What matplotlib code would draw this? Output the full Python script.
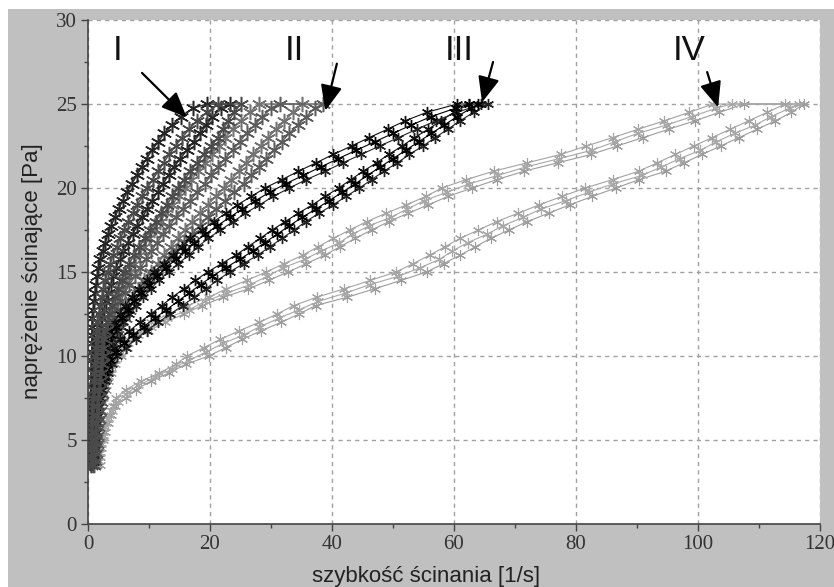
import matplotlib.pyplot as plt
from matplotlib.patches import Rectangle
from matplotlib.ticker import MultipleLocator

# naprezenie [Pa] - dwa przesuniete zestawy poziomow
tau_a = [3.5, 4.0, 4.5, 5.0, 5.5, 6.0, 6.5, 7.0, 7.5, 8.0, 8.5, 9.0, 9.5, 10.0,
         10.5, 11.0, 11.5, 12.0, 12.5, 13.0, 13.5, 14.0, 14.5, 15.0, 15.5, 16.0,
         16.5, 17.0, 17.5, 18.0, 18.5, 19.0, 19.5, 20.0, 20.5, 21.0, 21.5, 22.0,
         22.5, 23.0, 23.5, 24.0, 24.5, 25.0]
tau_b = [3.75, 4.25, 4.75, 5.25, 5.75, 6.25, 6.75, 7.25, 7.75, 8.25, 8.75, 9.25,
         9.75, 10.25, 10.75, 11.25, 11.75, 12.25, 12.75, 13.25, 13.75, 14.25, 14.75,
         15.25, 15.75, 16.25, 16.75, 17.25, 17.75, 18.25, 18.75, 19.25, 19.75, 20.25,
         20.75, 21.25, 21.75, 22.25, 22.75, 23.25, 23.75, 24.25, 24.75, 25.0]

# szybkosc scinania [1/s], probka I
i_up_1 = [0.3, 0.3, 0.32, 0.35, 0.37, 0.4, 0.42, 0.45, 0.47, 0.5, 0.52, 0.55, 0.57,
          0.6, 0.6, 0.6, 0.65, 0.7, 0.85, 1.0, 1.15, 1.3, 1.5, 1.7, 2.0, 2.4, 2.8,
          3.3, 3.8, 4.4, 5.0, 5.7, 6.4, 7.2, 8.0, 8.8, 9.6, 10.5, 11.5, 12.5, 13.8,
          15.2, 17.2, 19.5]
i_up_2 = [0.45, 0.5, 0.55, 0.6, 0.65, 0.7, 0.75, 0.8, 0.88, 0.95, 1.0, 1.05, 1.12,
          1.2, 1.25, 1.3, 1.4, 1.5, 1.75, 2.0, 2.25, 2.5, 2.85, 3.2, 3.65, 4.1, 4.7,
          5.3, 5.95, 6.6, 7.35, 8.1, 8.9, 9.7, 10.6, 11.5, 12.4, 13.3, 14.35, 15.4,
          16.6, 17.8, 19.5, 21.3]
i_down_1 = [0.65, 0.7, 0.78, 0.85, 0.92, 1.0, 1.08, 1.15, 1.25, 1.35, 1.48, 1.6, 1.7,
            1.8, 1.85, 1.9, 2.1, 2.3, 2.6, 2.9, 3.3, 3.7, 4.15, 4.6, 5.2, 5.8, 6.55,
            7.3, 8.1, 8.9, 9.7, 10.5, 11.4, 12.3, 13.2, 14.1, 15.15, 16.2, 17.3, 18.4,
            19.4, 20.4, 21.8, 23.2]
i_down_2 = [0.8, 0.9, 1.0, 1.1, 1.2, 1.3, 1.4, 1.5, 1.65, 1.8, 1.95, 2.1, 2.25, 2.4,
            2.5, 2.6, 2.85, 3.1, 3.5, 3.9, 4.4, 4.9, 5.5, 6.1, 6.8, 7.5, 8.4, 9.3,
            10.2, 11.1, 12.0, 12.9, 13.85, 14.8, 15.8, 16.8, 17.9, 19.0, 20.15, 21.3,
            22.15, 23.0, 24.0, 25.0]

# probka II
ii_up_1 = [0.5, 0.55, 0.57, 0.6, 0.65, 0.7, 0.75, 0.8, 0.9, 1.0, 1.15, 1.3, 1.55,
           1.8, 2.15, 2.5, 2.9, 3.3, 3.75, 4.2, 4.8, 5.4, 6.1, 6.8, 7.6, 8.4, 9.2,
           10.0, 10.9, 11.8, 12.8, 13.8, 14.85, 15.9, 16.95, 18.0, 19.15, 20.3, 21.4,
           22.5, 23.75, 25.0, 26.5, 28.0]
ii_up_2 = [0.75, 0.8, 0.85, 0.9, 0.97, 1.05, 1.15, 1.25, 1.37, 1.5, 1.67, 1.85, 2.15,
           2.45, 2.85, 3.25, 3.7, 4.2, 4.75, 5.3, 6.05, 6.8, 7.7, 8.6, 9.5, 10.4,
           11.35, 12.3, 13.35, 14.4, 15.55, 16.7, 17.9, 19.1, 20.2, 21.3, 22.5, 23.7,
           24.85, 26.0, 27.3, 28.6, 30.05, 31.5]
ii_down_1 = [0.95, 1.05, 1.12, 1.2, 1.32, 1.45, 1.55, 1.65, 1.82, 2.0, 2.22, 2.45,
             2.8, 3.15, 3.6, 4.05, 4.57, 5.1, 5.75, 6.4, 7.3, 8.2, 9.25, 10.3, 11.4,
             12.5, 13.6, 14.7, 15.85, 17.0, 18.3, 19.6, 20.95, 22.3, 23.5, 24.7, 25.9,
             27.1, 28.3, 29.5, 30.85, 32.2, 33.6, 35.0]
ii_down_2 = [1.2, 1.3, 1.4, 1.5, 1.65, 1.8, 1.95, 2.1, 2.3, 2.5, 2.75, 3.0, 3.4, 3.8,
             4.3, 4.8, 5.4, 6.0, 6.75, 7.5, 8.55, 9.6, 10.85, 12.1, 13.3, 14.5, 15.75,
             17.0, 18.3, 19.6, 21.05, 22.5, 24.0, 25.5, 26.75, 28.0, 29.25, 30.5,
             31.75, 33.0, 34.4, 35.8, 37.15, 38.5]

# probka III
iii_up_1 = [0.3, 0.3, 0.35, 0.4, 0.5, 0.55, 0.65, 0.75, 0.9, 1.0, 1.2, 1.3, 1.6, 1.9,
            2.4, 2.7, 3.5, 4.2, 5.2, 6.1, 7.2, 8.3, 9.6, 10.8, 12.4, 13.9, 15.4, 16.7,
            18.7, 20.6, 22.6, 24.5, 26.8, 29.0, 31.8, 34.5, 37.4, 40.2, 43.2, 46.1,
            49.1, 52.0, 55.5, 60.5]
iii_up_2 = [0.5, 0.5, 0.55, 0.6, 0.7, 0.85, 0.95, 1.05, 1.2, 1.4, 1.6, 1.9, 2.2, 2.7,
            3.2, 3.9, 4.7, 5.8, 6.8, 7.9, 9.0, 10.3, 11.6, 13.2, 14.8, 16.5, 18.0,
            19.7, 21.7, 23.8, 25.8, 28.1, 30.4, 33.0, 35.8, 38.9, 41.8, 44.8, 47.8,
            50.9, 53.9, 57.0, 60.5, 64.5]
iii_up_3 = [0.4, 0.42, 0.47, 0.55, 0.65, 0.75, 0.85, 0.97, 1.12, 1.3, 1.5, 1.75, 2.1,
            2.55, 3.05, 3.7, 4.55, 5.5, 6.5, 7.55, 8.7, 9.95, 11.3, 12.8, 14.4, 15.95,
            17.45, 19.2, 21.2, 23.2, 25.25, 27.45, 29.8, 32.4, 35.25, 38.15, 41.05,
            44.0, 47.0, 50.0, 53.0, 56.25, 60.25, 62.5]
iii_down_1 = [0.4, 0.5, 0.6, 0.7, 0.8, 0.95, 1.1, 1.3, 1.5, 1.7, 2.0, 2.3, 2.7, 3.2,
              4.2, 5.2, 6.8, 8.5, 10.3, 12.1, 13.8, 15.7, 17.6, 19.6, 21.9, 24.2,
              26.2, 28.2, 30.2, 32.3, 34.5, 36.8, 38.9, 41.1, 43.1, 45.1, 47.3, 49.3,
              51.5, 53.5, 55.8, 57.8, 60.0, 62.5]
iii_down_2 = [0.6, 0.7, 0.8, 0.9, 1.1, 1.25, 1.5, 1.7, 2.0, 2.3, 2.8, 3.3, 3.9, 4.8,
              6.2, 7.8, 9.6, 11.5, 13.5, 15.5, 17.4, 19.3, 21.2, 23.2, 25.5, 27.8,
              29.8, 31.8, 33.8, 35.7, 37.9, 40.2, 42.3, 44.5, 46.5, 48.5, 50.7, 52.7,
              54.9, 56.9, 59.0, 61.0, 63.2, 65.5]
iii_down_3 = [0.55, 0.65, 0.75, 0.87, 1.02, 1.2, 1.4, 1.62, 1.87, 2.2, 2.6, 3.05, 3.65,
              4.6, 5.85, 7.35, 9.1, 10.95, 12.85, 14.7, 16.55, 18.45, 20.4, 22.55,
              24.85, 27.0, 29.0, 31.0, 33.0, 35.1, 37.35, 39.55, 41.7, 43.8, 45.8,
              47.9, 50.0, 52.1, 54.2, 56.3, 58.4, 60.5, 62.8, 64.0]

# probka IV
iv_up_1 = [0.75, 0.85, 1.0, 1.15, 1.3, 1.45, 1.65, 1.85, 2.15, 2.3, 2.7, 3.2, 3.8,
           4.2, 5.2, 6.6, 8.6, 10.3, 13.3, 16.3, 19.8, 22.7, 26.0, 29.2, 32.2, 35.2,
           37.7, 40.2, 42.9, 45.7, 48.9, 52.2, 55.4, 58.0, 62.0, 66.5, 72.0, 77.5,
           81.7, 86.0, 90.2, 94.5, 98.5, 102.5]
iv_up_2 = [1.05, 1.15, 1.3, 1.45, 1.6, 1.75, 1.95, 2.15, 2.45, 2.9, 3.3, 3.8, 4.4,
           5.4, 6.4, 7.8, 9.8, 12.7, 15.7, 18.7, 22.2, 26.3, 29.6, 32.8, 35.8, 38.8,
           41.3, 43.8, 46.5, 49.3, 52.5, 55.8, 59.0, 63.0, 67.0, 71.5, 77.0, 82.5,
           86.7, 91.0, 95.2, 99.5, 103.5, 107.5]
iv_up_3 = [0.95, 1.07, 1.22, 1.37, 1.52, 1.7, 1.9, 2.15, 2.45, 2.8, 3.25, 3.8, 4.45,
           5.3, 6.5, 8.2, 10.35, 13.0, 16.5, 19.25, 22.75, 26.6, 29.4, 32.0, 35.5,
           38.25, 41.2, 43.35, 46.1, 49.6, 52.35, 55.1, 58.85, 62.5, 67.2, 71.75,
           77.25, 82.6, 86.35, 90.1, 94.85, 99.0, 103.0, 105.5]
iv_down_1 = [1.5, 1.6, 1.8, 2.0, 2.4, 2.9, 3.4, 4.1, 4.6, 6.2, 8.7, 11.7, 14.4, 16.2,
             19.0, 21.7, 24.8, 28.0, 31.0, 33.7, 37.5, 42.0, 46.3, 50.5, 53.3, 56.0,
             58.5, 61.0, 64.0, 67.0, 70.5, 74.0, 77.7, 81.5, 86.0, 90.3, 93.3, 96.3,
             99.3, 102.3, 105.3, 108.3, 111.3, 114.3]
iv_down_2 = [1.9, 2.0, 2.2, 2.4, 2.8, 3.3, 3.8, 4.5, 6.2, 7.8, 10.3, 13.3, 16.0, 19.8,
             22.6, 25.3, 28.4, 31.6, 34.6, 37.3, 42.5, 47.0, 51.3, 55.5, 58.3, 61.0,
             63.5, 66.0, 69.0, 72.0, 75.5, 79.0, 82.7, 86.5, 90.4, 94.7, 97.7, 100.7,
             103.7, 106.7, 109.7, 112.7, 115.3, 117.3]
iv_down_3 = [1.75, 1.9, 2.1, 2.4, 2.85, 3.35, 3.95, 4.85, 6.2, 8.25, 11.0, 13.85, 16.6,
             19.4, 22.15, 25.5, 28.2, 31.3, 34.6, 37.75, 42.25, 46.2, 50.9, 54.4, 57.6,
             59.75, 62.25, 65.4, 68.0, 71.25, 74.3, 78.35, 82.1, 86.1, 90.8, 94.0, 97.0,
             100.4, 103.0, 106.0, 109.4, 112.0, 115.0, 116.5]

labels = ['I', 'II', 'III', 'IV']
label_x = [4.9, 33.8, 60.8, 98.5]
arrow_from = [(8.85, 26.85), (40.8, 27.4), (66.4, 27.5), (101.5, 26.9)]
arrow_to = [(16.2, 24.2), (38.9, 24.6), (64.6, 25.1), (103.3, 24.8)]


def loop(ax, tau, up, down, color, ms=8, mew=0.8, lw=0.8):
    # jeden cykl: narastanie i spadek naprezenia
    x = up + down[::-1]
    y = tau + tau[::-1]
    ax.plot(x, y, color=color, lw=lw, marker=(6, 2, 0), ms=ms, mew=mew)


fig = plt.figure(figsize=(8.34, 5.87), dpi=100, facecolor='white')
fig.add_artist(Rectangle((8 / 834, 0), 1, 1 - 9 / 587, transform=fig.transFigure,
                         facecolor='#c0c0c0', edgecolor='none', zorder=-1))
ax = fig.add_axes([88 / 834, 1 - 524 / 587, 732 / 834, 504 / 587])
ax.set_facecolor('white')

loop(ax, tau_a, iv_up_1, iv_down_1, '#a3a3a3')
loop(ax, tau_a, iv_up_2, iv_down_2, '#9c9c9c')
loop(ax, tau_b, iv_up_3, iv_down_3, '#a8a8a8')
loop(ax, tau_a, ii_up_1, ii_down_1, '#727272', ms=11, mew=1.1, lw=1.0)
loop(ax, tau_b, ii_up_2, ii_down_2, '#5c5c5c', ms=11, mew=1.1, lw=1.0)
loop(ax, tau_a, iii_up_1, iii_down_1, '#111111', ms=8, mew=1.0)
loop(ax, tau_a, iii_up_2, iii_down_2, '#222222', ms=8, mew=1.0)
loop(ax, tau_b, iii_up_3, iii_down_3, '#000000', ms=8, mew=1.0)
loop(ax, tau_b, i_up_1, i_down_1, '#262626', ms=11, mew=1.1, lw=1.0)
loop(ax, tau_a, i_up_2, i_down_2, '#4a4a4a', ms=11, mew=1.1, lw=1.0)

for lab, lx, a0, a1 in zip(labels, label_x, arrow_from, arrow_to):
    ax.text(lx, 28.2, lab, fontsize=25, ha='center', va='center',
            family='Liberation Sans', color='#111111')
    ax.annotate('', xy=a1, xytext=a0,
                arrowprops=dict(arrowstyle='-|>,head_length=1.3,head_width=0.55',
                                mutation_scale=12, color='black', lw=1.6,
                                shrinkA=0, shrinkB=0))

ax.set_xlim(0, 120)
ax.set_ylim(0, 30)
ax.xaxis.set_major_locator(MultipleLocator(20))
ax.xaxis.set_minor_locator(MultipleLocator(10))
ax.yaxis.set_major_locator(MultipleLocator(5))
ax.yaxis.set_minor_locator(MultipleLocator(2.5))
ax.grid(True, which='major', color='#a0a0a0', linestyle=(0, (3, 3)), lw=1)
ax.set_axisbelow(True)
for s in ['top', 'right']:
    ax.spines[s].set_visible(False)
for s in ['left', 'bottom']:
    ax.spines[s].set_color('#444444')
    ax.spines[s].set_linewidth(1.2)
ax.tick_params(which='major', length=5, width=1, color='#444444', pad=3,
               labelsize=15, labelcolor='#333333')
ax.tick_params(which='minor', length=3, width=1, color='#444444')
for t in ax.get_xticklabels() + ax.get_yticklabels():
    t.set_family('Liberation Serif')

fig.text(426 / 834, 1 - 582 / 587, 'szybkość ścinania [1/s]', fontsize=16,
         ha='center', va='baseline', family='Liberation Sans', color='#222222')
fig.text(33 / 834, 1 - 271 / 587, 'naprężenie ścinające [Pa]', fontsize=16,
         rotation=90, ha='center', va='center', family='Liberation Sans',
         color='#222222')

fig.savefig('out.png', dpi=100, facecolor=fig.get_facecolor())
